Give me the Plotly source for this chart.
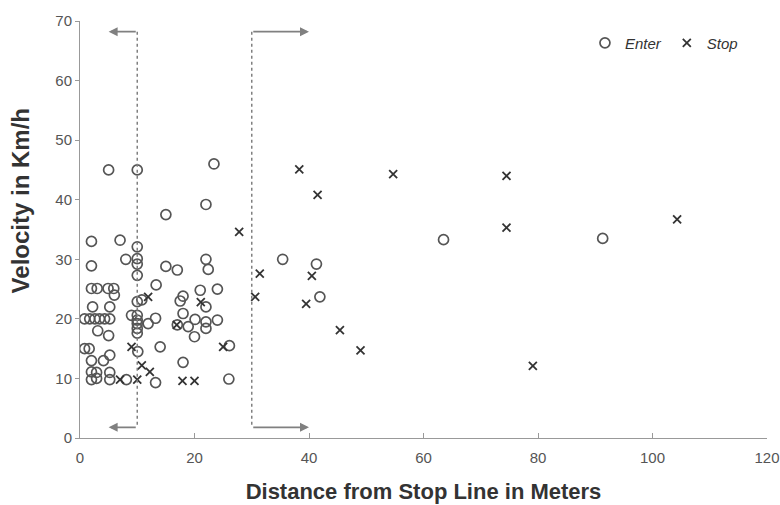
import plotly.graph_objects as go

# Enter (circles)
enter_x = [5, 10, 23.4, 15, 22, 2, 7, 10, 2, 8, 10, 10, 10, 15, 17, 22, 22.4,
           2, 3, 4.9, 5.9, 6, 13.3, 18, 17.5, 21, 24, 10, 10.8,
           2.2, 5.2, 22,
           0.8, 1.7, 2.6, 3.4, 4.3, 5.2,
           9, 10, 10, 10, 10, 10, 11.9, 13.2,
           18, 20.1, 22, 24, 18.9, 22, 17,
           3.1, 5, 20,
           0.8, 1.6, 14, 10.1, 26.1,
           5.2, 4.1, 2, 18,
           2, 2.9, 5.2, 2, 2.9, 5.2, 8.1, 13.2, 26,
           35.4, 41.3, 41.9, 63.5, 91.3]
enter_y = [45, 45, 46, 37.5, 39.2, 33, 33.2, 32.1, 28.9, 30, 30.1, 29.2, 27.3, 28.8, 28.2, 30, 28.3,
           25.1, 25.1, 25.1, 25.1, 24, 25.7, 23.8, 23, 24.8, 25, 22.9, 23.2,
           22, 22, 22,
           20, 20, 20, 20, 20, 20,
           20.6, 20.6, 19.8, 19.2, 18.4, 17.6, 19.2, 20.1,
           20.9, 19.9, 19.5, 19.8, 18.7, 18.4, 19,
           18, 17.2, 17,
           15, 15, 15.3, 14.5, 15.5,
           13.9, 13, 13, 12.7,
           11.1, 11, 11, 9.8, 10, 9.8, 9.8, 9.3, 9.9,
           30, 29.2, 23.7, 33.3, 33.5]

# Stop (crosses)
stop_x = [27.8, 31.4, 30.6, 38.3, 41.5, 54.7, 74.5, 74.5, 40.5, 39.5, 45.4, 49, 79.1, 104.3,
          11.9, 21.1, 16.9, 9, 25, 10.8, 12.2, 7, 10, 17.9, 20]
stop_y = [34.6, 27.6, 23.7, 45.1, 40.8, 44.3, 44, 35.3, 27.2, 22.5, 18.1, 14.7, 12.1, 36.7,
          23.7, 22.8, 19, 15.3, 15.3, 12.2, 11.1, 9.8, 9.8, 9.6, 9.6]

x_ticks = [0, 20, 40, 60, 80, 100, 120]
y_ticks = [0, 10, 20, 30, 40, 50, 60, 70]

MK = "#555555"
fig = go.Figure()
fig.add_trace(go.Scatter(x=enter_x, y=enter_y, mode="markers", name="<i>Enter</i>",
                         marker=dict(symbol="circle-open", size=10, color=MK, line=dict(width=1.7, color=MK))))
fig.add_trace(go.Scatter(x=stop_x, y=stop_y, mode="markers", name="<i>Stop</i>",
                         marker=dict(symbol="x-thin-open", size=8, color="#333333", line=dict(width=1.8, color="#333333"))))

LC = "#808080"
# dashed region lines
for xv in [10, 30]:
    fig.add_shape(type="line", x0=xv, x1=xv, y0=68.2, y1=1.8, xref="x", yref="y",
                  line=dict(color=LC, width=1.5, dash="dot"))
# arrows
for (xt, xs, yv) in [(5, 10, 68.2), (5, 10, 1.8), (40, 30, 68.2), (40, 30, 1.8)]:
    fig.add_annotation(x=xt, y=yv, ax=xs, ay=yv, xref="x", yref="y", axref="x", ayref="y",
                       showarrow=True, arrowhead=2, arrowsize=1.0, arrowwidth=1.8,
                       arrowcolor=LC, text="")

# y-axis title (placed slightly above centre, as in the reference)
fig.add_annotation(text="<b>Velocity in Km/h</b>", textangle=-90, showarrow=False,
                   xref="paper", yref="paper", x=-0.087, y=0.568, xanchor="center", yanchor="middle",
                   font=dict(size=24, color="#333333"))

fig.update_layout(
    width=780, height=505,
    margin=dict(l=80, r=13, t=21, b=67),
    paper_bgcolor="white", plot_bgcolor="white",
    font=dict(family="Liberation Sans, Arial, sans-serif", color="#444444"),
    showlegend=True,
    legend=dict(orientation="h", x=0.965, y=0.947, xanchor="right", yanchor="middle",
                font=dict(size=15, color="#333333"), itemwidth=30, bgcolor="rgba(0,0,0,0)"),
    xaxis=dict(range=[0, 120], tickvals=x_ticks, showgrid=False, zeroline=False,
               showline=True, linecolor="#999999", linewidth=1, automargin=False,
               ticks="inside", ticklen=5, tickcolor="#999999", ticklabelstandoff=6,
               tickfont=dict(size=15, color="#555555"),
               title=dict(text="<b>Distance from Stop Line in Meters</b>",
                          font=dict(size=22, color="#333333"), standoff=18)),
    yaxis=dict(range=[0, 70], tickvals=y_ticks, showgrid=False, zeroline=False,
               showline=True, linecolor="#999999", linewidth=1, automargin=False,
               ticks="outside", ticklen=4, tickcolor="#999999",
               tickfont=dict(size=15, color="#555555")),
)

fig.write_html("out.html", config={"displayModeBar": False},
               post_script="document.body.style.margin='0';document.body.style.overflow='hidden';")
